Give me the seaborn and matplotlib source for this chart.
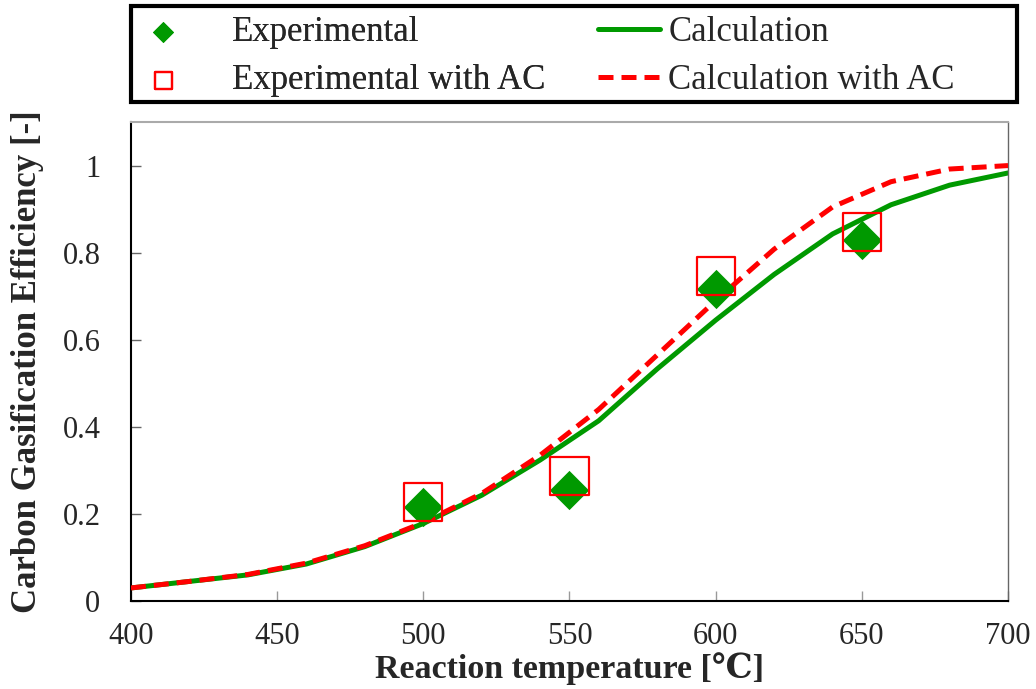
import matplotlib
matplotlib.use("Agg")
import matplotlib.pyplot as plt
import seaborn as sns
import pandas as pd
from matplotlib.patches import Rectangle
from matplotlib.ticker import FuncFormatter

# calculated curves, every 20 degC
temp_calc = [400, 420, 440, 460, 480, 500, 520, 540, 560, 580, 600, 620, 640, 660, 680, 700]
eff_calc = [0.030, 0.045, 0.060, 0.085, 0.125, 0.178, 0.243, 0.324, 0.414, 0.533,
            0.645, 0.750, 0.843, 0.910, 0.955, 0.983]
eff_calc_ac = [0.030, 0.045, 0.061, 0.087, 0.127, 0.180, 0.247, 0.335, 0.440, 0.565,
               0.690, 0.808, 0.905, 0.963, 0.992, 1.000]

# experiments
temp_exp = [500, 550, 600, 650]
eff_exp = [0.216, 0.255, 0.717, 0.828]
eff_exp_ac = [0.228, 0.287, 0.747, 0.848]

sns.set_style("white")
plt.rcParams['font.family'] = ['Liberation Serif', 'DejaVu Serif']

calc = pd.DataFrame({"T": temp_calc, "calc": eff_calc, "calc_ac": eff_calc_ac})
exp = pd.DataFrame({"T": temp_exp, "exp": eff_exp, "exp_ac": eff_exp_ac})

fig = plt.figure(figsize=(10.36, 6.89), dpi=100)
ax = fig.add_axes([0.1264, 0.1277, 0.8466, 0.6952])

green = "#009900"
red = "#ff0000"

sns.lineplot(data=calc, x="T", y="calc", ax=ax, color=green, linewidth=3.6,
             label="Calculation", zorder=2)
sns.lineplot(data=calc, x="T", y="calc_ac", ax=ax, color=red, linewidth=3.6,
             label="Calculation with AC", zorder=3)
ax.lines[1].set_dashes([3, 1.6])
sns.scatterplot(data=exp, x="T", y="exp", ax=ax, marker="D", s=400, color=green,
                linewidth=0, label="Experimental", zorder=4)
sns.scatterplot(data=exp, x="T", y="exp_ac", ax=ax, marker="s", s=750,
                facecolors="none", edgecolors=red, linewidths=1.6,
                label="Experimental with AC", zorder=5)

ax.set_xlim(400, 700)
ax.set_ylim(0, 1.1)
ax.set_xticks([400, 450, 500, 550, 600, 650, 700])
ax.set_yticks([0, 0.2, 0.4, 0.6, 0.8, 1.0])
ax.yaxis.set_major_formatter(FuncFormatter(lambda v, p: f"{v:g}"))
ax.tick_params(axis="x", direction="in", length=7, width=1, color="#999999",
               labelsize=22, pad=15, bottom=True)
ax.tick_params(axis="y", direction="in", length=7, width=1, color="#666666",
               labelsize=22, pad=22, left=True)

for side in ["left", "bottom"]:
    ax.spines[side].set_color("black")
    ax.spines[side].set_linewidth(1.5)
ax.spines["right"].set_color("#666666")
ax.spines["top"].set_color("#aaaaaa")
ax.spines["right"].set_linewidth(1)
ax.spines["top"].set_linewidth(1.5)

ax.set_xlabel("Reaction temperature [℃]", fontsize=24.5, fontweight="bold", labelpad=1)
ax.set_ylabel("Carbon Gasification Efficiency [-]", fontsize=25, fontweight="bold", labelpad=13)

# legend: two columns drawn as two legends inside one black box
handles, labels = ax.get_legend_handles_labels()
h = dict(zip(labels, handles))
ax.get_legend().remove()

leg1 = fig.legend([h["Experimental"], h["Experimental with AC"]],
                  ["Experimental", "Experimental with AC"],
                  loc="center left", bbox_to_anchor=(132 / 1036, 1 - 56.5 / 689),
                  fontsize=25, frameon=False,
                  handlelength=1.79, handletextpad=1.1, borderpad=0,
                  borderaxespad=0, labelspacing=0.45)
leg1.legend_handles[0].set_sizes([115])
leg1.legend_handles[1].set_sizes([150])
leg2 = fig.legend([h["Calculation"], h["Calculation with AC"]],
                  ["Calculation", "Calculation with AC"],
                  loc="center left", bbox_to_anchor=(598 / 1036, 1 - 56.5 / 689),
                  fontsize=25, frameon=False,
                  handlelength=1.79, handletextpad=0.23, borderpad=0,
                  borderaxespad=0, labelspacing=0.45)
fig.add_artist(leg1)

fig.add_artist(Rectangle((130.5 / 1036, 1 - 101.5 / 689), 886 / 1036, 95.5 / 689,
                         transform=fig.transFigure, fill=False,
                         edgecolor="black", linewidth=3))

fig.savefig("out.png", dpi=100)
